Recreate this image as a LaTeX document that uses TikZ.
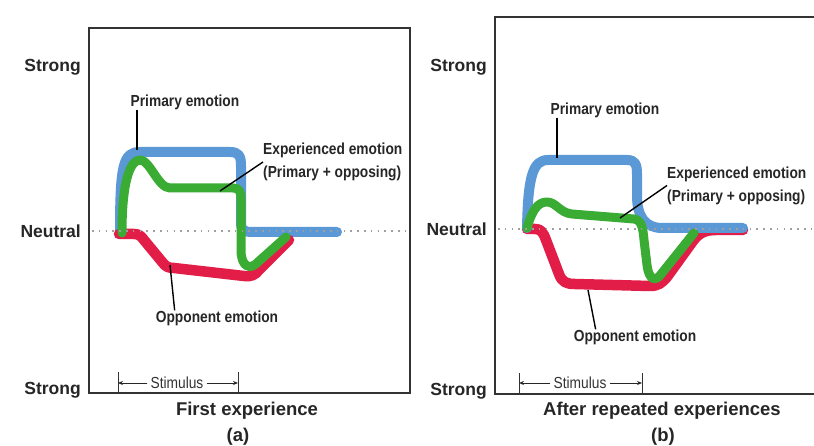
\documentclass[tikz,border=0pt]{standalone}
\usepackage{fontspec}
\setmainfont{Liberation Sans}
\newfontfamily\condfont[FakeStretch=0.86]{Liberation Sans}
\usetikzlibrary{arrows.meta}

\definecolor{primblue}{RGB}{90,152,214}
\definecolor{expgreen}{RGB}{58,172,52}
\definecolor{oppred}{RGB}{226,30,72}

\begin{document}
\begin{tikzpicture}[
  x=1pt, y=-1pt,
  >={Stealth[length=5pt,width=4pt]},
  axislabel/.style={anchor=east, inner sep=0pt, text=black!85, font=\bfseries\fontsize{17.5}{20}\selectfont},
  paneltitle/.style={inner sep=0pt, text=black!85, font=\bfseries\fontsize{18.5}{21}\selectfont},
  calloutlabel/.style={inner sep=0pt, text=black!85, align=left, font=\condfont\bfseries\fontsize{16}{23}\selectfont},
  stimlabel/.style={inner sep=3pt, text=black!80, font=\condfont\fontsize{16}{18}\selectfont},
  callout/.style={draw=black, line width=1.4pt},
  panelframe/.style={draw=black!80, line width=2pt},
  neutralline/.style={draw=gray!75, line width=1.6pt, dash pattern=on 1.6pt off 5.2pt},
  stimtick/.style={draw=black!80, line width=1pt},
  stimarrow/.style={->, draw=black!85, line width=1pt},
  primcurve/.style={draw=primblue, line width=10pt, line cap=round, line join=round},
  expcurve/.style={draw=expgreen, line width=9pt, line cap=round, line join=round},
  oppcurve/.style={draw=oppred, line width=10.5pt, line cap=round, line join=round}
]
  \useasboundingbox[fill=white] (0,0) rectangle (814,446);

  % (a) first experience
  \draw[panelframe] (89,28) rectangle (410,393);
  \node[axislabel] (strongAtop) at (81,67) {Strong};
  \node[axislabel] (neutralA) at (81,231) {Neutral};
  \node[axislabel] (strongAbot) at (81,390) {Strong};

  \draw[primcurve] (120,233) .. controls (120,165) and (123,152) .. (140,152) -- (230,152)
    .. controls (239,152) and (241,156) .. (241,166) -- (241,222)
    .. controls (241,230) and (243,232) .. (253,232) -- (337,232);
  \draw[oppcurve] (119,234) -- (134,234) .. controls (139,234) and (141,236) .. (144,240)
    -- (163,263) .. controls (166,267) and (169,268) .. (174,268)
    -- (244,276) .. controls (251,277) and (255,275) .. (259,270) -- (289,240);
  \draw[expcurve] (122,233) .. controls (122,178) and (131,160) .. (140,160)
    .. controls (150,160) and (158,188) .. (170,188) -- (233,188)
    .. controls (239,188) and (241,191) .. (241,199) -- (241,250)
    .. controls (241,268) and (251,270) .. (258,262) -- (286,237);
  \draw[neutralline] (92,231) -- (408,231);

  \node[calloutlabel] (primA) at (185,102) {Primary emotion};
  \coordinate (primAend) at (137,150);
  \draw[callout] (primA.south -| primAend) -- (primAend);
  \node[calloutlabel, anchor=west] (expA) at (263,162) {Experienced emotion\\(Primary + opposing)};
  \coordinate (expAend) at (220,191);
  \draw[callout] (expA.west) -- (expAend);
  \node[calloutlabel] (oppA) at (217,318) {Opponent emotion};
  \coordinate (oppAend) at (170,265);
  \draw[callout] ([xshift=19pt]oppA.north west) -- (oppAend);

  \coordinate (stimAl) at (118,372);
  \coordinate (stimAr) at (238,372);
  \draw[stimtick] (stimAl) -- (118,393);
  \draw[stimtick] (stimAr) -- (238,393);
  \node[stimlabel] (stimA) at (177,383) {Stimulus};
  \draw[stimarrow] (stimA.west) -- (stimA.west -| stimAl);
  \draw[stimarrow] (stimA.east) -- (stimA.east -| stimAr);

  \node[paneltitle] (titleA) at (247,411) {First experience};
  \node[paneltitle] (tagA) at (238,437) {(a)};

  % (b) after repeated experiences
  \draw[panelframe] (816,17) -- (495,17) -- (495,394) -- (816,394);
  \node[axislabel] (strongBtop) at (487,67) {Strong};
  \node[axislabel] (neutralB) at (487,229) {Neutral};
  \node[axislabel] (strongBbot) at (487,391) {Strong};

  \draw[oppcurve] (527,229) -- (535,229) .. controls (541,229) and (543,232) .. (546,240)
    -- (559,274) .. controls (562,282) and (566,284) .. (575,284)
    -- (650,286) .. controls (658,286) and (662,283) .. (667,277)
    -- (693,241) .. controls (699,233) and (705,230) .. (716,230) -- (743,230);
  \draw[primcurve] (527,228) .. controls (528,176) and (533,160) .. (548,160) -- (627,160)
    .. controls (635,160) and (637,164) .. (637,174) -- (637,196)
    .. controls (637,216) and (645,228) .. (662,228) -- (743,228);
  \draw[expcurve] (527,228) .. controls (532,210) and (538,202) .. (547,202)
    .. controls (556,202) and (560,213) .. (572,214) -- (634,219)
    .. controls (641,220) and (643,227) .. (644,240) -- (647,265)
    .. controls (649,281) and (656,282) .. (662,273) -- (694,233);
  \draw[neutralline] (498,229) -- (812,229);

  \node[calloutlabel] (primB) at (605,110) {Primary emotion};
  \coordinate (primBend) at (557,158);
  \draw[callout] (primB.south -| primBend) -- (primBend);
  \node[calloutlabel, anchor=west] (expB) at (667,185.5) {Experienced emotion\\(Primary + opposing)};
  \coordinate (expBend) at (620,218);
  \draw[callout] (expB.west) -- (expBend);
  \node[calloutlabel] (oppB) at (635,337) {Opponent emotion};
  \coordinate (oppBend) at (588,290);
  \draw[callout] ([xshift=22pt]oppB.north west) -- (oppBend);

  \coordinate (stimBl) at (519,373);
  \coordinate (stimBr) at (642,373);
  \draw[stimtick] (stimBl) -- (519,394);
  \draw[stimtick] (stimBr) -- (642,394);
  \node[stimlabel] (stimB) at (580,383) {Stimulus};
  \draw[stimarrow] (stimB.west) -- (stimB.west -| stimBl);
  \draw[stimarrow] (stimB.east) -- (stimB.east -| stimBr);

  \node[paneltitle] (titleB) at (662,411) {After repeated experiences};
  \node[paneltitle] (tagB) at (663,437) {(b)};
\end{tikzpicture}
\end{document}
